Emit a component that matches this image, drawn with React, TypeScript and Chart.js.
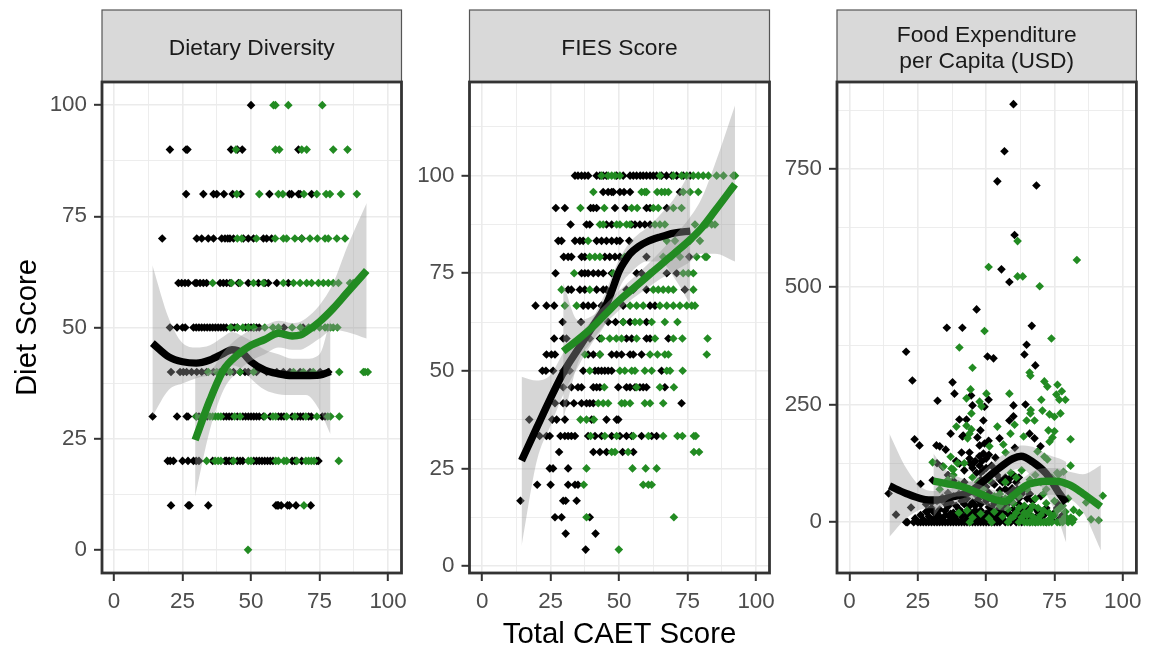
import React, { useEffect, useRef } from "react";
import { Chart, registerables } from "chart.js";

Chart.register(...registerables);

type Pt = [number, number];
const row = (y: number, xs: number[]): Pt[] => xs.map((x) => [x, y] as Pt);

const FONT = '"Liberation Sans", Arial, sans-serif';
const BLACK = "#000000";
const GREEN = "#228B22";
const RIBBON = "rgba(153,153,153,0.4)";

/* ---------- Dietary Diversity ---------- */
const dietBlack: Pt[] = [
  ...row(100, [50]),
  ...row(90, [20.4, 26.3, 26.8, 42.7, 45, 46.8, 67.3]),
  ...row(80, [26.3, 32.6, 36.3, 37.5, 40.1, 43.3, 46.2, 56.7, 64, 64.8, 67.3, 67.9, 72.1]),
  ...row(70, [17.6, 30.2, 32, 34.4, 36.3, 39.3, 40.5, 41.5, 42.3, 43.6, 47.2, 49, 50.9, 54.5, 55.7, 57.5, 68.5]),
  ...row(60, [23.5, 24.7, 25.9, 27.1, 29.6, 30.2, 31.4, 32.6, 33.8, 38.7, 39.9, 41.1, 42.3, 45.4, 49, 52.7, 55.1, 56.3, 59.4, 63.6]),
  ...row(50, [20.4, 23, 25, 26, 29, 30, 31, 32, 33, 34, 35, 36, 37, 38, 39, 40, 41, 43, 44, 45, 48, 49, 50, 51, 52, 53, 62, 69]),
  ...row(40, [20.8, 24.1, 25.3, 26.5, 28.3, 30.2, 32, 33.8, 36.3, 38.7, 41.1, 43.6, 46, 47.8, 49, 52, 55.7, 59.4, 61.8, 64.2, 67.9, 71.5, 75.2, 78.2]),
  ...row(30, [14.1, 23, 26.5, 27, 30, 31, 34, 40, 41, 42, 43, 45, 47, 48, 49, 50, 51, 52, 53, 54.5, 57, 60, 61, 62, 65, 67, 68, 69, 71, 72, 76, 77]),
  ...row(20, [19.6, 20.5, 21.7, 25, 27, 29, 30, 31, 36, 40.5, 41, 42, 43, 45, 46, 47, 51, 52, 53, 54, 55, 56, 57, 58, 65, 66, 68.5, 74, 74.6]),
  ...row(10, [20.8, 27.1, 27.6, 34.4, 59.1, 59.6, 60, 61, 63.3, 64, 66.4, 71.8]),
];
const dietGreen: Pt[] = [
  ...row(100, [58.2, 58.9, 63.6, 76]),
  ...row(90, [44.5, 58.9, 60.3, 70.3, 68.5, 80, 85.2]),
  ...row(80, [44.8, 53, 60, 61.6, 69.3, 74, 77.4, 78.8, 82.8, 88.6]),
  ...row(70, [45, 46.6, 52, 58.8, 61.8, 63, 66, 68.5, 71.5, 74.2, 77, 78.2, 81.3, 84.3]),
  ...row(60, [36, 42.9, 46, 50.9, 54.5, 61.8, 65.5, 67.9, 70.3, 72.1, 74.6, 76.4, 78.2, 80, 81.9, 86.1, 87.3]),
  ...row(50, [42.5, 45, 47, 49, 51, 55, 58, 60, 65, 68, 71, 73, 75, 77, 78, 79, 80, 81.5]),
  ...row(40, [34.4, 37.5, 42.3, 46, 50.9, 65.5, 69.1, 72.7, 82.2, 91, 91.6, 92.6]),
  ...row(30, [30, 32, 33, 35, 36, 37, 38, 39, 44, 46, 55, 58, 59, 63, 66, 70, 74, 78, 79, 82.2]),
  ...row(20, [33.8, 36.9, 38, 39, 43.6, 49, 50, 59, 60, 62, 63, 66.7, 70, 71, 72, 73, 82]),
  ...row(10, [69.3]),
  ...row(0, [48.9]),
];
const dietBlackX = [14, 20, 25, 30, 35, 40, 43, 47, 50, 55, 60, 65, 70, 75, 79];
const dietBlackY = [46.5, 43.4, 42.3, 42, 42.7, 44.2, 45, 44.2, 42.3, 40.4, 39.6, 39.2, 39.2, 39.3, 40.1];
const dietBlackUpper = [64, 52, 46.5, 45.5, 46, 48, 49, 48, 47, 45, 44, 43, 43, 44, 52];
const dietBlackLower = [30, 36, 37.4, 38.6, 39.3, 41, 41.5, 40.5, 38.5, 36, 35, 34.8, 34.8, 31.4, 26];
const dietGreenX = [29.6, 35, 40, 45, 50, 55, 60, 65, 68, 70, 75, 80, 85, 92.2];
const dietGreenY = [24.7, 33.7, 40.5, 43.8, 46, 47.3, 48.7, 48.1, 48.3, 49, 51.3, 54.3, 57.8, 62.8];
const dietGreenUpper = [39, 40, 44.5, 47.5, 49.5, 50.5, 51.5, 51, 51.3, 52, 55, 60, 68, 78];
const dietGreenLower = [12, 27, 36, 40, 42.5, 44, 45.5, 45, 45, 45.5, 47.5, 49.5, 49, 47.5];

/* ---------- FIES Score ---------- */
const fiesBlack: Pt[] = [
  ...row(100, [33.9, 35, 36.3, 37.5, 38.7, 41.8, 43, 44.2, 45.4, 49.1, 51.5, 54, 55.2, 56.4, 57.7, 58.8, 60, 61.3, 62.5, 63.7, 65.5, 67.3, 69.2, 71, 73.4, 75.9]),
  ...row(95.8, [44.2, 46, 47.3, 47.9, 50.3, 51.8, 54, 72.2]),
  ...row(91.7, [26.9, 30.2, 39.6, 40.6, 41.8, 48.5, 52.4, 60, 61.3, 67.4]),
  ...row(87.5, [32.3, 38.1, 39.3, 45.4, 47.3, 54.6, 55.8, 57.6, 59.4, 61.3]),
  ...row(83.3, [27.8, 29, 33.9, 35.7, 36.9, 41.8, 43.6, 45.4, 47.3, 49.1, 50.3, 53.7]),
  ...row(79.2, [29.8, 31.4, 32.6, 36.3, 37.5, 44.8, 46.6, 48.5, 50.3, 60, 75.6]),
  ...row(75, [26.8, 36.3, 37.5, 38.7, 40.6, 42.4, 44.2, 47.3, 56.4, 58.2, 67.4, 71]),
  ...row(70.8, [31.4, 32.6, 35.7, 37.5, 41.8, 44.2, 45.4, 52.7, 55.2, 60, 74]),
  ...row(66.7, [19.5, 23.5, 26.3, 36.9, 38.7, 40.6, 43.6, 45.4, 51.5, 61.3, 63.1]),
  ...row(62.5, [29.4, 36.1, 46, 48.7, 51.5, 54, 60]),
  ...row(58.3, [26.3, 29.6, 30.8, 37.5, 39.3, 43, 52.7, 54.6, 60, 61.3, 68]),
  ...row(54.2, [23.5, 25.3, 26.6, 38.7, 40.6, 43, 47.3, 49.1, 50.9, 54, 55.2, 58.2]),
  ...row(50, [22, 23.3, 25.9, 29.6, 30.8, 32, 36.9, 41.2, 42.4, 43.6, 44.8, 46, 47.3, 65.5]),
  ...row(45.8, [29.6, 32.6, 35, 36.3, 40.6, 41.8, 43, 49.7, 52.7, 54, 55.8, 57.6, 58.8, 60, 66.7]),
  ...row(41.7, [26.6, 29.6, 30.8, 33.5, 36.3, 38.1, 39.3, 40.6, 72.8]),
  ...row(37.5, [17.2, 25.6, 27.2, 30.2, 40, 45.4, 49.1, 49.7]),
  ...row(33.3, [21, 23.5, 24.7, 28.6, 30.2, 31.4, 32.6, 33.9, 38.7, 41.2, 43.6, 47.3, 50.3, 52.7, 54.6, 58.2, 61.9, 63.7]),
  ...row(29.2, [28.1, 40.6, 43, 45.4, 51.3, 55.2]),
  ...row(25, [24.7, 25.9, 31.4]),
  ...row(20.8, [20.1, 25, 31.4, 33.9, 35]),
  ...row(16.7, [14, 29.6, 30.5, 34.5]),
  ...row(12.5, [26.6, 29, 39.3]),
  ...row(8.3, [30.5, 41.4]),
  ...row(4.2, [37.8]),
];
const fiesGreen: Pt[] = [
  ...row(100, [43.6, 46, 47.3, 48.5, 50.3, 64.9, 69.8, 72.8, 74.7, 77.1, 78.9, 80.7, 82.6, 85.6, 88.1, 91.7, 92.3]),
  ...row(95.8, [40.6, 58.2, 59.4, 60, 63.9, 65.5, 66.7, 68, 73.4, 75.9, 78.9]),
  ...row(91.7, [35.9, 44.6, 54.6, 56.6, 62.5, 64.3, 69.8, 72.8]),
  ...row(87.5, [43, 44.2, 49.1, 50.3, 52.7, 54, 63.1, 64.9, 66.7, 77.7, 82, 83.8, 85]),
  ...row(83.3, [38.7, 67.4, 70.4, 75.9, 79.5]),
  ...row(79.2, [39.3, 41.2, 43, 52.1, 66.1, 69.2, 72.2, 78.3, 81.4, 82]),
  ...row(75, [33.6, 47.9, 61.3, 73.4, 75.3, 77.1]),
  ...row(70.8, [29, 39.3, 62.5, 64.3, 66.1, 68, 69.8, 77.1]),
  ...row(66.7, [30.2, 34.5, 54, 56.4, 58.8, 64.9, 67.4, 69.8, 72.2, 74.7, 76.5, 77.7]),
  ...row(62.5, [51.5, 55.8, 57.6, 61.9, 66.7, 71.3]),
  ...row(58.3, [43.6, 46.6, 49, 50.9, 56.4, 63.1, 69.8, 73.1, 82.3]),
  ...row(54.2, [37.5, 43, 61.3, 64, 66.7, 68, 82]),
  ...row(50, [39.3, 50.3, 52.1, 54.6, 55.8, 59.4, 61.9, 67.4, 68.6, 73.2]),
  ...row(45.8, [44.6, 56.4, 64.9, 70]),
  ...row(41.7, [42.4, 44.2, 46, 50.9, 52.1, 54, 59.4, 61.3, 66.1]),
  ...row(37.5, [35.9, 38.1, 40.8]),
  ...row(33.3, [39.6, 44.8, 49.1, 55.2, 60.7, 66.1, 71.3, 73.1, 77.3, 78]),
  ...row(29.2, [47.3, 48.5, 53.3, 77.3, 79.2]),
  ...row(25, [38.1, 54.9, 59.7, 63.7]),
  ...row(20.8, [37.1, 58.8, 60.7, 61.9]),
  ...row(12.5, [38.1, 70]),
  ...row(4.2, [49.9]),
];
const fiesBlackX = [14.4, 20, 25, 30, 35, 40, 45, 47, 50, 52, 54, 57, 60, 65, 70, 76];
const fiesBlackY = [27, 35.5, 43, 50, 55.5, 61, 66.5, 69.8, 75.5, 78, 80, 81.8, 83, 84.3, 85.3, 85.8];
const fiesBlackUpper = [48.5, 47.5, 49, 55, 59, 63, 70, 73.5, 78.5, 81, 83, 85, 86.5, 90, 94, 101];
const fiesBlackLower = [5, 27, 36, 44.5, 51, 57, 62, 65.5, 71, 73.5, 75, 77, 78, 78, 74, 67];
const fiesGreenX = [29.6, 35, 40, 45, 50, 55, 60, 65, 70, 75, 80, 85, 92.3];
const fiesGreenY = [55, 58, 61, 64.5, 68, 71, 74, 77, 80, 83, 86.5, 91, 97.8];
const fiesGreenUpper = [72.5, 63, 64, 67, 70.5, 73.7, 77, 80.5, 84.5, 88.5, 94, 103, 118];
const fiesGreenLower = [37.5, 52, 57.5, 62, 65.5, 68.5, 71, 73.5, 75.5, 77.5, 80, 80, 78];

/* ---------- Food Expenditure ---------- */
const foodBlack: Pt[] = [
  [60, 888], [56.7, 788], [54.1, 724], [68.4, 715], [60.4, 610], [55.6, 537], [58.5, 510], [46.5, 452],
  [35.6, 413], [41.3, 413], [66.7, 417], [20.7, 362], [23, 301], [64.8, 377], [64, 356], [50.5, 352],
  [52.7, 348], [68, 333], [37.7, 297], [38.4, 273], [32.2, 258], [44.5, 269], [50.9, 260], [49.4, 245],
  [45, 248], [60, 248], [64.4, 250], [40.2, 218], [42.8, 218], [49, 216], [60, 225], [58.5, 216],
  [37, 188], [47.9, 195], [41.3, 182], [41.6, 184], [23.8, 176], [25.6, 163], [46.8, 180], [54.9, 178],
  [65.9, 188], [67.7, 178], [31.8, 163], [33, 161], [35.2, 154], [50.9, 173], [49.4, 167], [47.6, 163],
  [60.5, 158], [69.9, 161], [41, 148], [43.9, 148], [49, 146], [51, 143], [53.4, 137], [43.9, 135],
  [45.7, 127], [47.6, 120], [40.2, 124], [32, 125], [34, 118], [36, 100], [38, 88], [39, 130],
  [42, 110], [44, 125], [46, 130], [48, 105], [49, 110], [50, 135], [52, 120], [54, 100], [55, 90],
  [56, 85], [57, 70], [58, 65], [59, 95], [60, 100], [61, 85], [62, 95], [60, 60], [62, 50], [64, 70],
  [65, 50], [66, 60], [67, 45], [68, 30], [70, 55], [72, 30], [75, 20], [76, 40], [78, 15], [44, 70],
  [46, 60], [48, 90], [50, 75], [52, 85], [54, 45], [56, 30], [58, 20], [60, 40], [62, 25], [64, 30],
  [66, 15], [30.4, 89], [26, 81], [14.3, 61], [17, 16], [22.5, 31],
  [45, 115], [46.5, 105], [47.5, 140], [48.5, 130], [50, 115], [51.5, 100], [53, 80], [55, 68], [57, 95],
  [58, 85], [59.5, 72], [61.5, 70], [63, 60], [47, 72], [49, 55], [51, 62], [42, 85], [40, 60], [38, 55],
  [36, 62], [34, 52], [32, 45], [30, 42], [28, 38], [41, 45], [43, 50], [45, 42], [47, 48], [53, 40], [55, 52],
  [35, 40], [37, 42], [39, 35], [44, 35], [46, 25], [48, 38], [50, 45], [52, 30], [54, 12], [56, 20], [58, 40], [60, 15], [62, 38], [64, 8],
  ...row(0, [20.7, 21.2, 23.5, 25, 26, 27, 28, 29, 30, 31, 32, 33, 34, 35, 36, 37, 38, 39, 40, 41, 42, 43, 44, 45, 46, 47, 48, 49, 50, 51, 52, 53, 54, 55, 57, 59, 61, 63, 66, 68, 72]),
  [24, 8], [26, 15], [27, 5], [28, 22], [29, 12], [30, 30], [31, 8], [32, 18], [33, 27], [34, 6], [35, 14],
  [36, 33], [37, 10], [38, 20], [39, 5], [40, 28], [41, 12], [42, 38], [43, 7], [44, 22], [45, 15], [46, 35],
  [47, 9], [48, 25], [49, 4], [50, 18], [51, 32], [52, 11], [53, 6], [54, 24], [55, 14], [56, 8], [57, 35],
  [58, 18], [59, 5], [60, 28], [62, 12], [64, 18], [65, 8], [66, 30], [68, 10], [69, 22], [70, 5], [71, 14],
  [74, 6], [76, 30], [77, 8],
  [29, 25], [31, 20], [33, 12], [35, 24], [37, 18], [39, 14], [41, 22], [43, 16], [45, 6], [47, 20], [49, 12], [51, 20], [53, 16], [55, 7],
];
const foodGreen: Pt[] = [
  [61.5, 597], [50.9, 542], [83.2, 557], [61.5, 522], [63.4, 522], [69.6, 501], [49.4, 406], [73.9, 390],
  [40.2, 371], [45, 328], [65.9, 318], [66.2, 311], [71.3, 299], [72.4, 288], [76.1, 292], [77.7, 278],
  [75.7, 271], [76.8, 260], [79, 260], [70.2, 260], [58.5, 273], [50.1, 273], [44.3, 282], [42.8, 263],
  [47.6, 256], [48.3, 246], [66.3, 238], [66.2, 231], [70.6, 237], [73.2, 229], [75, 224], [77.2, 231],
  [44.6, 231], [64.8, 216], [67.7, 216], [60.4, 207], [54.1, 203], [39.1, 203], [42.8, 205], [44.6, 197],
  [43.9, 188], [72.8, 195], [75, 193], [58.9, 188], [63.7, 182], [80.9, 176], [74.3, 180], [73.2, 171],
  [43.2, 178], [56.3, 165], [51.2, 161], [57.1, 148], [68.8, 150], [37, 139], [30.4, 127], [71.3, 139],
  [72.4, 133], [80.9, 120], [34.4, 118], [37.3, 114], [38, 112], [39.5, 125], [42, 125], [78.3, 107],
  [76.5, 101], [88.4, 6], [91.2, 4], [92.7, 56], [86.6, 42], [84.1, 20], [82, 26],
  ...row(0, [44, 52, 58, 62, 64, 65, 66, 67, 68, 69, 70, 71, 72, 73, 74, 76, 77, 78, 80, 81.5]),
  [40, 20], [43, 25], [45, 10], [48, 18], [51, 8], [53, 22], [55, 35], [56, 12], [57, 50],
  [58, 28], [59, 8], [60, 40], [61, 20], [62, 55], [63, 10], [64, 35], [65, 70], [66, 25], [67, 12], [68, 50],
  [69, 30], [70, 15], [71, 60], [72, 40], [73, 20], [74, 10], [75, 45], [76, 25], [77, 60], [78, 35], [79, 22],
  [80, 50], [81, 10], [78, 5], [79, 12], [82, 6], [55, 60], [57, 85], [59, 105], [61, 95], [63, 110], [66, 90],
  [68, 100], [70, 85], [72, 70], [74, 95], [76, 105], [45, 95], [47, 85], [49, 70], [51, 90], [53, 55], [42, 60],
  [40, 80], [38, 100], [36, 90], [33, 70],
  [65, 15], [67, 35], [69, 8], [71, 25], [73, 5], [75, 15], [77, 30], [79, 6], [62, 30], [64, 20], [60, 12],
];
const foodBlackX = [14.6, 20.7, 26.8, 31.7, 37.8, 43.9, 48.8, 53.7, 59.8, 62.8, 67, 72, 76.8, 79.3];
const foodBlackY = [77, 61, 49, 47, 54, 64, 86, 110, 135, 140, 128, 103, 61, 41];
const foodBlackUpper = [188, 115, 72, 66, 72, 85, 108, 133, 156, 163, 160, 145, 135, 128];
const foodBlackLower = [-31, 8, 28, 30, 37, 45, 64, 86, 110, 114, 95, 60, 0, -44];
const foodGreenX = [30.7, 35.4, 41.5, 47.6, 53.7, 57, 59.8, 64.6, 68, 72, 75.6, 80.5, 85.4, 92];
const foodGreenY = [87, 82, 75, 61, 47, 44, 56, 78, 84, 87, 87, 79, 61, 33];
const foodGreenUpper = [146, 110, 92, 80, 66, 64, 76, 98, 110, 115, 115, 107, 102, 121];
const foodGreenLower = [11, 45, 55, 42, 27, 25, 37, 55, 58, 58, 58, 50, 22, -60];

/* ---------- Panels ---------- */
const xMajorStep = 25;

const panels = [
  {
    title: ["Dietary Diversity"], canvasLeft: 0, canvasWidth: 416, areaLeft: 102, areaRight: 401.5,
    xMin: -4.38, xMax: 104.9,
    yMin: -5.2, yMax: 105.2, yMajor: 25, yTitle: "Diet Score", xTitle: "",
    black: dietBlack, green: dietGreen,
    bx: dietBlackX, by: dietBlackY, bu: dietBlackUpper, bl: dietBlackLower,
    gx: dietGreenX, gy: dietGreenY, gu: dietGreenUpper, gl: dietGreenLower,
  },
  {
    title: ["FIES Score"], canvasLeft: 410, canvasWidth: 376, areaLeft: 469.5, areaRight: 769.5,
    xMin: -4.6, xMax: 104.9,
    yMin: -1.8, yMax: 124, yMajor: 25, yTitle: "", xTitle: "Total CAET Score",
    black: fiesBlack, green: fiesGreen,
    bx: fiesBlackX, by: fiesBlackY, bu: fiesBlackUpper, bl: fiesBlackLower,
    gx: fiesGreenX, gy: fiesGreenY, gu: fiesGreenUpper, gl: fiesGreenLower,
  },
  {
    title: ["Food Expenditure", "per Capita (USD)"], canvasLeft: 780, canvasWidth: 369, areaLeft: 837, areaRight: 1137,
    xMin: -4.6, xMax: 105,
    yMin: -108, yMax: 935, yMajor: 250, yTitle: "", xTitle: "",
    black: foodBlack, green: foodGreen,
    bx: foodBlackX, by: foodBlackY, bu: foodBlackUpper, bl: foodBlackLower,
    gx: foodGreenX, gy: foodGreenY, gu: foodGreenUpper, gl: foodGreenLower,
  },
];

type Panel = (typeof panels)[number];

const zip = (xs: number[], ys: number[]) => xs.map((x, i) => ({ x, y: ys[i] }));
const pts = (p: Pt[]) => p.map(([x, y]) => ({ x, y }));

const stripPlugin = {
  id: "facetFrame",
  beforeDraw(chart: any) {
    const { ctx, chartArea: a } = chart;
    ctx.save();
    ctx.fillStyle = "#D9D9D9";
    ctx.fillRect(a.left, 10, a.right - a.left, 72);
    ctx.strokeStyle = "#555555";
    ctx.lineWidth = 1.2;
    ctx.strokeRect(a.left, 10, a.right - a.left, 72);
    ctx.restore();
  },
  afterDatasetsDraw(chart: any) {
    const { ctx, chartArea: a } = chart;
    ctx.save();
    ctx.strokeStyle = "#333333";
    ctx.lineWidth = 2.8;
    ctx.strokeRect(a.left, a.top, a.right - a.left, a.bottom - a.top);
    ctx.restore();
  },
};

function smoothSets(xs: number[], ys: number[], up: number[], lo: number[], color: string, base: number) {
  const common = { type: "scatter", showLine: true, pointRadius: 0, cubicInterpolationMode: "monotone" };
  return [
    { ...common, data: zip(xs, lo), borderColor: "rgba(0,0,0,0)", borderWidth: 0, fill: false, order: base + 2 },
    { ...common, data: zip(xs, up), borderColor: "rgba(0,0,0,0)", borderWidth: 0, backgroundColor: RIBBON, fill: "-1", order: base + 1 },
    { ...common, data: zip(xs, ys), borderColor: color, borderWidth: 7.4, fill: false, borderCapStyle: "butt", order: base },
  ];
}

function makeChart(canvas: HTMLCanvasElement, p: Panel) {
  const lineH = 1.17;
  const stripSize = 22.8;
  const tickSize = 22.4;
  const axisSize = 29.4;
  const titlePad = (72 - p.title.length * stripSize * lineH) / 2;
  const isMajor = (v: number, step: number) => Math.abs(v % step) < 1e-6;
  const scaleBase = (major: number) => ({
    type: "linear",
    grid: {
      color: "#EBEBEB",
      lineWidth: (c: any) => (isMajor(c.tick.value, major) ? 1.6 : 0.9),
      tickLength: 8,
      tickWidth: 2,
      tickColor: (c: any) => (isMajor(c.tick.value, major) ? "#333333" : "rgba(0,0,0,0)"),
    },
    border: { display: false },
    ticks: {
      stepSize: major / 2,
      includeBounds: false,
      autoSkip: false,
      maxRotation: 0,
      color: "#4D4D4D",
      font: { family: FONT, size: tickSize },
      padding: 7,
      callback: (v: any) => (isMajor(Number(v), major) ? String(v) : ""),
    },
  });

  return new Chart(canvas, {
    type: "scatter",
    data: {
      datasets: [
        { data: pts(p.black), pointStyle: "rectRot", pointRadius: 4.3, backgroundColor: BLACK, borderWidth: 0, order: 20 },
        { data: pts(p.green), pointStyle: "rectRot", pointRadius: 4.3, backgroundColor: GREEN, borderWidth: 0, order: 19 },
        ...smoothSets(p.bx, p.by, p.bu, p.bl, BLACK, 10),
        ...smoothSets(p.gx, p.gy, p.gu, p.gl, GREEN, 1),
      ] as any,
    },
    options: {
      responsive: false,
      animation: false,
      events: [],
      layout: {
        padding: {
          top: 10,
          bottom: 0,
          left: 0,
          right: p.canvasLeft + p.canvasWidth - p.areaRight,
        },
      },
      plugins: {
        legend: { display: false },
        tooltip: { enabled: false },
        title: {
          display: true,
          text: p.title,
          fullSize: false,
          color: "#1A1A1A",
          font: { family: FONT, size: stripSize, weight: "normal", lineHeight: lineH },
          padding: { top: titlePad + 2.6, bottom: titlePad - 2.6 },
        },
      },
      scales: {
        x: {
          ...scaleBase(xMajorStep),
          position: "bottom",
          min: p.xMin,
          max: p.xMax,
          title: {
            display: !!p.xTitle,
            text: p.xTitle,
            color: "#000000",
            font: { family: FONT, size: axisSize },
            padding: { top: 5, bottom: 0 },
          },
          afterFit: (s: any) => {
            s.height = 80;
          },
        },
        y: {
          ...scaleBase(p.yMajor),
          position: "left",
          min: p.yMin,
          max: p.yMax,
          title: {
            display: !!p.yTitle,
            text: p.yTitle,
            color: "#000000",
            font: { family: FONT, size: axisSize },
            padding: { top: 10, bottom: 0 },
          },
          afterFit: (s: any) => {
            s.width = p.areaLeft - p.canvasLeft;
          },
        },
      },
    } as any,
    plugins: [stripPlugin],
  } as any);
}

function Panel({ panel }: { panel: Panel }) {
  const ref = useRef<HTMLCanvasElement>(null);
  useEffect(() => {
    const chart = makeChart(ref.current as HTMLCanvasElement, panel);
    return () => chart.destroy();
  }, [panel]);
  return (
    <canvas
      ref={ref}
      width={panel.canvasWidth}
      height={653}
      style={{ position: "absolute", left: panel.canvasLeft, top: 0, display: "block" }}
    />
  );
}

export default function App() {
  return (
    <div style={{ position: "absolute", left: 0, top: 0, width: 1149, height: 653, background: "#fff", overflow: "hidden" }}>
      {panels.map((p) => (
        <Panel key={p.title[0]} panel={p} />
      ))}
    </div>
  );
}
